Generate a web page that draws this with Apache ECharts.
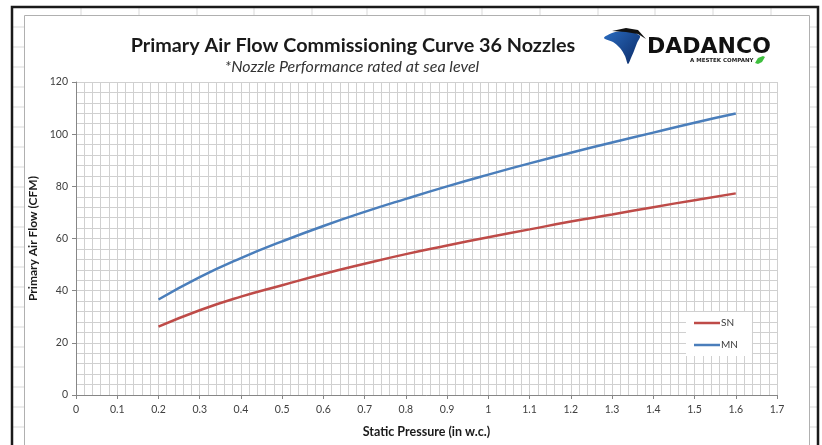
<!DOCTYPE html>
<html><head><meta charset="utf-8">
<script src="https://cdn.jsdelivr.net/npm/echarts@6/dist/echarts.min.js"></script>
<style>html,body{margin:0;padding:0;background:#fff}#c{width:822px;height:445px}</style>
</head><body><div id="c"></div>
<script>
const pressure = [0.2,0.3,0.4,0.5,0.6,0.7,0.8,0.9,1.0,1.1,1.2,1.3,1.4,1.5,1.6];
const snFlow = [26.2,32.5,37.7,42.1,46.4,50.3,54.0,57.3,60.5,63.5,66.5,69.2,72.0,74.7,77.3];
const mnFlow = [36.6,45.2,52.5,58.9,64.8,70.2,75.2,80.0,84.5,88.8,92.9,96.8,100.6,104.4,107.9];
const seriesNames = ['SN','MN'];
const xTickLabels = ['0','0.1','0.2','0.3','0.4','0.5','0.6','0.7','0.8','0.9','1','1.1','1.2','1.3','1.4','1.5','1.6','1.7'];

const chart = echarts.init(document.getElementById('c'));
const font = 'Lato, "Open Sans", sans-serif';

// spreadsheet-like frame lines
const frame = [];
for (let y = 27; y < 445; y += 20) {
  frame.push({type:'line', shape:{x1:13,y1:y,x2:24,y2:y}, style:{stroke:'#d9d9d9',lineWidth:1}, silent:true});
  frame.push({type:'line', shape:{x1:810,y1:y,x2:817,y2:y}, style:{stroke:'#d9d9d9',lineWidth:1}, silent:true});
}
[81,139,197,254,312,367,425,482,540,598,655,713,771].forEach(x=>{
  frame.push({type:'line', shape:{x1:x,y1:8,x2:x,y2:15}, style:{stroke:'#d9d9d9',lineWidth:1}, silent:true});
});
frame.push({type:'rect', shape:{x:24.5,y:15.5,width:785,height:440}, style:{fill:'none',stroke:'#b0b0b0',lineWidth:1}, silent:true});
frame.push({type:'rect', shape:{x:12,y:7,width:806,height:450}, style:{fill:'none',stroke:'#1a1a1a',lineWidth:2.5}, silent:true});

// logo
const logo = [
  {type:'polygon', shape:{points:[[604,38],[612,33],[622,31],[632,32],[640,36],[637,43],[634,51],[631,58],[628,64],[625,56],[620,48],[613,42]], smooth:0.3},
   style:{fill:new echarts.graphic.LinearGradient(0,0,1,1,[{offset:0,color:'#2a6cc0'},{offset:1,color:'#0b2a66'}])}, silent:true},
  {type:'polygon', shape:{points:[[612,31],[626,28],[638,30],[646,39],[638,34],[626,32]]},
   style:{fill:'#111'}, silent:true},
  {type:'text', style:{x:647,y:47,text:'DADANCO',fill:'#111',font:'bold 22px "DejaVu Sans", sans-serif',textVerticalAlign:'middle'}, silent:true},
  {type:'text', style:{x:690,y:61,text:'A MESTEK COMPANY',fill:'#222',font:'bold 5.5px "DejaVu Sans", sans-serif',textVerticalAlign:'middle'}, silent:true},
  {type:'polygon', shape:{points:[[755,63],[758,58],[763,56],[765,57],[762,62],[758,64]]}, style:{fill:'#3fbf3f'}, silent:true}
];

chart.setOption({
  animation:false,
  backgroundColor:'#fff',
  title:[
    {text:'Primary Air Flow Commissioning Curve 36 Nozzles', left:348, top:31, textAlign:'center',
     textStyle:{fontFamily:font,fontWeight:'bold',fontSize:19.8,color:'#1a1a1a'}},
    {text:'*Nozzle Performance rated at sea level', left:347, top:54, textAlign:'center',
     textStyle:{fontFamily:font,fontStyle:'italic',fontWeight:'normal',fontSize:16,color:'#333'}}
  ],
  legend:{
    data:seriesNames, orient:'vertical', left:686, top:312, itemWidth:26, itemHeight:2.5, itemGap:12,
    icon:'rect', backgroundColor:'#fff', padding:[6,14,6,8],
    textStyle:{fontFamily:font,fontSize:10,color:'#404040',padding:[0,0,0,-4]}
  },
  grid:{left:76, right:45, top:82, bottom:50, containLabel:false},
  xAxis:{
    type:'value', min:0, max:1.7, interval:0.1,
    name:'Static Pressure (in w.c.)', nameLocation:'middle', nameGap:30,
    nameTextStyle:{fontFamily:font,fontWeight:'bold',fontSize:12.5,color:'#1a1a1a'},
    axisLine:{show:true,lineStyle:{color:'#868686',width:1}},
    axisTick:{show:true,length:4,lineStyle:{color:'#868686'}},
    axisLabel:{fontFamily:font,fontSize:10.5,color:'#404040',margin:9,
      formatter:(v)=>xTickLabels[Math.round(v*10)]},
    splitLine:{show:true,lineStyle:{color:'#d0d0d0',width:1}},
    minorTick:{show:false,splitNumber:5},
    minorSplitLine:{show:true,lineStyle:{color:'#d0d0d0',width:1}}
  },
  yAxis:{
    type:'value', min:0, max:120, interval:20,
    name:'Primary Air Flow (CFM)', nameLocation:'middle', nameGap:36,
    nameTextStyle:{fontFamily:font,fontWeight:'bold',fontSize:12,color:'#1a1a1a'},
    axisLine:{show:true,lineStyle:{color:'#868686',width:1}},
    axisTick:{show:true,length:4,lineStyle:{color:'#868686'}},
    axisLabel:{fontFamily:font,fontSize:10.5,color:'#404040',margin:8},
    splitLine:{show:true,lineStyle:{color:'#d0d0d0',width:1}},
    minorTick:{show:false,splitNumber:5},
    minorSplitLine:{show:true,lineStyle:{color:'#d0d0d0',width:1}}
  },
  series:[
    {name:seriesNames[0], type:'line', smooth:true, showSymbol:false, symbol:'none',
     data:pressure.map((p,i)=>[p,snFlow[i]]), lineStyle:{color:'#be4b48',width:2.5}, itemStyle:{color:'#be4b48'}},
    {name:seriesNames[1], type:'line', smooth:true, showSymbol:false, symbol:'none',
     data:pressure.map((p,i)=>[p,mnFlow[i]]), lineStyle:{color:'#4a7ebb',width:2.5}, itemStyle:{color:'#4a7ebb'}}
  ],
  graphic:frame.concat(logo)
});
</script></body></html>
